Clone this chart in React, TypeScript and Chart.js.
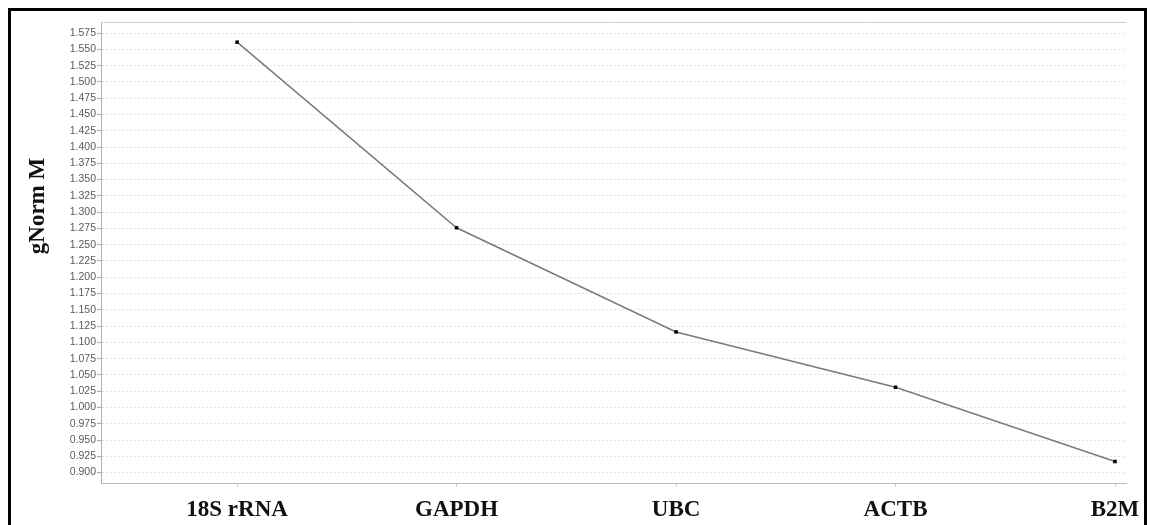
import React, { useEffect, useRef } from "react";
import { Chart, registerables } from "chart.js";

Chart.register(...registerables);

const CATEGORIES = ["18S rRNA", "GAPDH", "UBC", "ACTB", "B2M"];
const M_VALUES = [1.561, 1.276, 1.116, 1.031, 0.917];
const Y_TICKS = [
  0.9, 0.925, 0.95, 0.975, 1.0, 1.025, 1.05, 1.075, 1.1, 1.125, 1.15, 1.175, 1.2, 1.225,
  1.25, 1.275, 1.3, 1.325, 1.35, 1.375, 1.4, 1.425, 1.45, 1.475, 1.5, 1.525, 1.55, 1.575,
];
const Y_TITLE = "gNorm M";

const decorPlugin = {
  id: "decor",
  afterDraw(chart: any) {
    const { ctx, chartArea } = chart;
    ctx.save();
    ctx.strokeStyle = "#cfcfcf";
    ctx.lineWidth = 1;
    ctx.beginPath();
    ctx.moveTo(chartArea.left, chartArea.top + 0.5);
    ctx.lineTo(chartArea.right, chartArea.top + 0.5);
    ctx.stroke();
    ctx.translate(38, 206);
    ctx.rotate(-Math.PI / 2);
    ctx.font = "bold 23px 'Liberation Serif'";
    ctx.fillStyle = "#111";
    ctx.textAlign = "center";
    ctx.textBaseline = "middle";
    ctx.fillText(Y_TITLE, 0, 0);
    ctx.restore();
  },
};

export default function App() {
  const ref = useRef<HTMLCanvasElement>(null);
  useEffect(() => {
    if (!ref.current) return;
    const chart = new Chart(ref.current, {
      type: "line",
      data: {
        datasets: [
          {
            data: M_VALUES.map((v, i) => ({ x: i, y: v })),
            borderColor: "#7a7a7a",
            borderWidth: 1.5,
            pointStyle: "rect",
            pointRadius: 2.5,
            pointBackgroundColor: "#000",
            pointBorderColor: "#000",
            pointBorderWidth: 0,
            tension: 0,
          },
        ],
      },
      options: {
        responsive: false,
        animation: false,
        devicePixelRatio: 1,
        layout: { padding: { left: 0, top: 22, right: 24, bottom: 0 } },
        plugins: { legend: { display: false }, tooltip: { enabled: false } },
        scales: {
          x: {
            type: "linear",
            min: -0.62,
            max: 4.05,
            afterFit(scale: any) {
              scale.height = 42;
            },
            afterBuildTicks(scale: any) {
              scale.ticks = CATEGORIES.map((_, i) => ({ value: i }));
            },
            ticks: {
              callback: (v: any) => CATEGORIES[v as number] ?? "",
              font: { family: "'Liberation Serif'", size: 23, weight: "bold" },
              color: "#111",
              padding: 9,
              maxRotation: 0,
              autoSkip: false,
            },
            grid: { drawOnChartArea: false, drawTicks: true, tickLength: 4, tickColor: "#cccccc" },
            border: { color: "#bdbdbd", width: 1 },
          },
          y: {
            min: 0.884,
            max: 1.592,
            afterFit(scale: any) {
              scale.width = 101;
            },
            afterBuildTicks(scale: any) {
              scale.ticks = Y_TICKS.map((v) => ({ value: v }));
            },
            ticks: {
              callback: (v: any) => Number(v).toFixed(3),
              font: { family: "'Liberation Sans'", size: 10.5 },
              color: "#5a5a5a",
              padding: 1,
              autoSkip: false,
            },
            grid: {
              color: "#e2e2e2",
              tickLength: 4,
              tickColor: "#aaaaaa",
              tickBorderDash: [],
            },
            border: { color: "#b0b0b0", width: 1, dash: [2, 2] },
          },
        },
      },
      plugins: [decorPlugin],
    } as any);
    return () => chart.destroy();
  }, []);
  return (
    <>
      <div style={{ position: "fixed", left: 0, top: 0, width: 1150, height: 525, background: "#fff" }}>
        <canvas ref={ref} width={1150} height={525} style={{ display: "block" }} />
      </div>
      <div
        style={{
          position: "fixed",
          left: 8,
          top: 8,
          width: 1139,
          height: 530,
          boxSizing: "border-box",
          border: "3px solid #000",
          borderBottom: "none",
          pointerEvents: "none",
        }}
      />
    </>
  );
}
